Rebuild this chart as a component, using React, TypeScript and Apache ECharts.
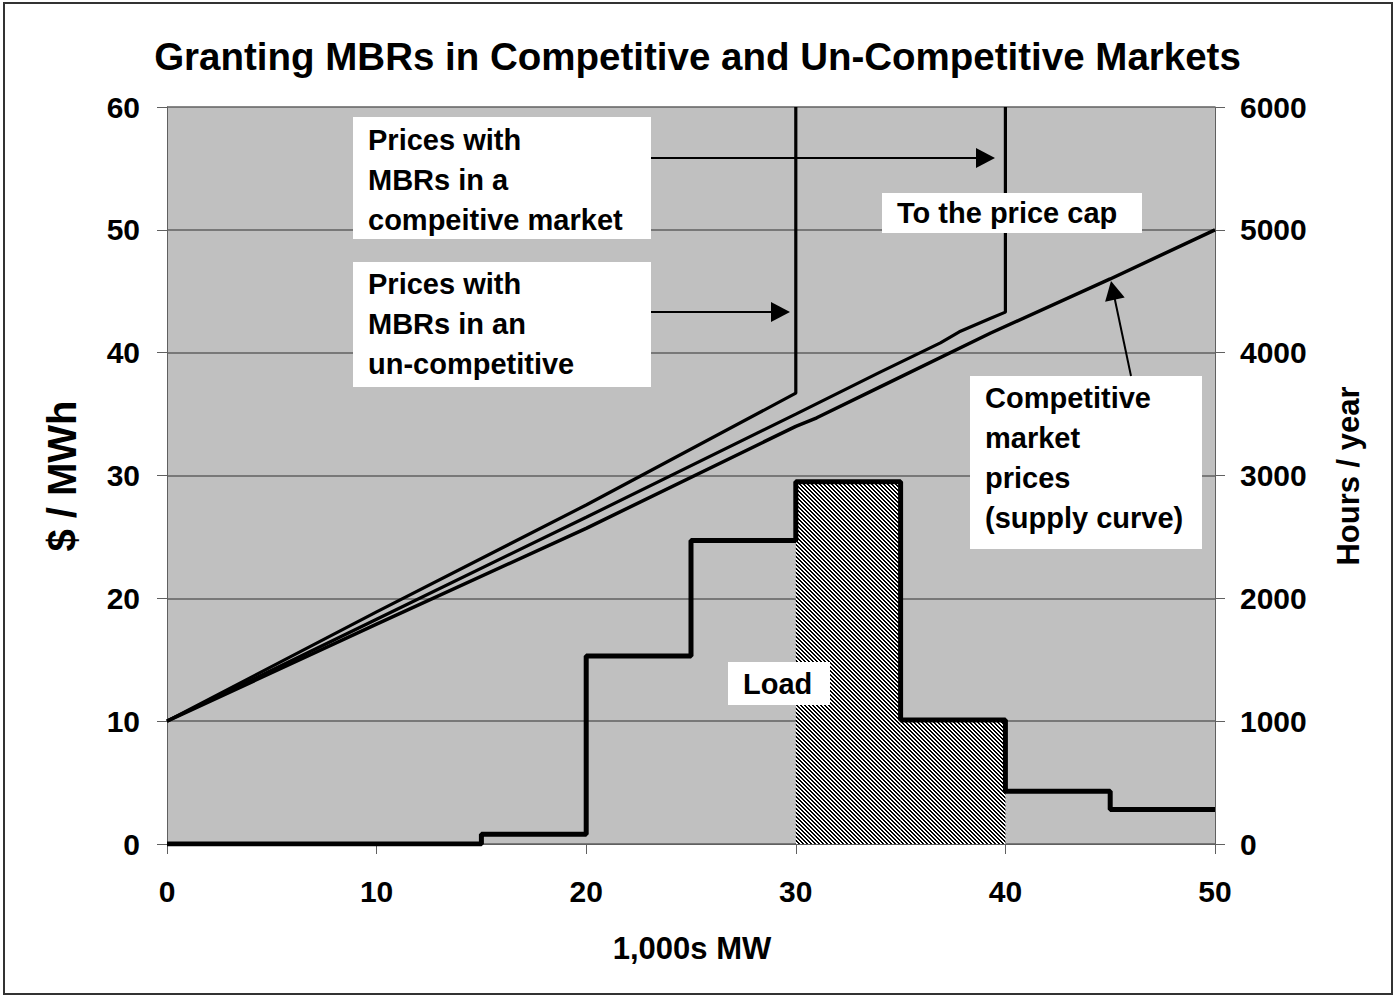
import React, { useEffect, useRef } from "react";
import * as echarts from "echarts";

// ---- data ----
const upperX = [0, 10, 20, 30, 30];
const upperY = [10, 18.9, 27.6, 36.7, 60];
const middleX = [0, 10, 20, 30, 34, 36.9, 37.8, 39.3, 40, 40];
const middleY = [10, 18.3, 26.6, 35.0, 38.4, 40.8, 41.7, 42.8, 43.3, 60];
const supplyX = [0, 10, 20, 30, 31, 34, 39.3, 45, 50];
const supplyY = [10, 17.9, 25.7, 34.0, 34.7, 37.2, 41.6, 46.0, 50];
const loadEdges = [0, 15, 20, 25, 30, 35, 40, 45, 50];
const loadHours = [0, 80, 1530, 2470, 2950, 1010, 430, 280];
const hatchFrom = 30;
const hatchTo = 40;

const titleText = "Granting MBRs in Competitive and Un-Competitive Markets";
const leftTitle = "$ / MWh";
const rightTitle = "Hours / year";
const bottomTitle = "1,000s MW";

const FONT = '"Liberation Sans", Arial, sans-serif';

function zip(xs: number[], ys: number[]) {
  return xs.map((x, i) => [x, ys[i]]);
}

function arrowHead(tx: number, ty: number, fx: number, fy: number, len: number, half: number) {
  const dx = tx - fx, dy = ty - fy;
  const L = Math.sqrt(dx * dx + dy * dy);
  const ux = dx / L, uy = dy / L;
  const bx = tx - ux * len, by = ty - uy * len;
  return [
    [tx, ty],
    [bx - uy * half, by + ux * half],
    [bx + uy * half, by - ux * half],
  ];
}

function arrow(fx: number, fy: number, tx: number, ty: number) {
  const pts = arrowHead(tx, ty, fx, fy, 19, 10);
  const dx = tx - fx, dy = ty - fy;
  const L = Math.sqrt(dx * dx + dy * dy);
  const ex = tx - (dx / L) * 15, ey = ty - (dy / L) * 15;
  return [
    { type: "line", z: 100, shape: { x1: fx, y1: fy, x2: ex, y2: ey }, style: { stroke: "#000", lineWidth: 2 } },
    { type: "polygon", z: 100, shape: { points: pts }, style: { fill: "#000" } },
  ];
}

function box(x: number, y: number, w: number, h: number, text: string, tx: number, ty: number) {
  return [
    { type: "rect", z: 99, shape: { x, y, width: w, height: h }, style: { fill: "#fff" } },
    {
      type: "text",
      z: 101,
      style: {
        text,
        x: tx,
        y: ty,
        font: `bold 29px ${FONT}`,
        fill: "#000",
        lineHeight: 40,
        textVerticalAlign: "top",
      },
    },
  ];
}

export default function App() {
  const ref = useRef<HTMLDivElement>(null);
  useEffect(() => {
    document.body.style.margin = "0";
    const chart = echarts.init(ref.current!, null, { renderer: "svg" });

    const cv = document.createElement("canvas");
    cv.width = 4;
    cv.height = 4;
    const ctx = cv.getContext("2d")!;
    ctx.fillStyle = "#fff";
    ctx.fillRect(0, 0, 4, 4);
    ctx.fillStyle = "#000";
    for (let i = 0; i < 4; i++) {
      ctx.fillRect(i, i, 1, 1);
      ctx.fillRect(i, (i + 1) % 4, 1, 1);
    }
    const pattern: any = { image: cv.toDataURL(), repeat: "repeat", imageWidth: 4, imageHeight: 4 };

    const loadPts: number[][] = [];
    for (let i = 0; i < loadHours.length; i++) {
      loadPts.push([loadEdges[i], loadHours[i]]);
      loadPts.push([loadEdges[i + 1], loadHours[i]]);
    }
    const hatchData: number[][] = [];
    for (let i = 0; i < loadHours.length; i++) {
      if (loadEdges[i] >= hatchFrom && loadEdges[i + 1] <= hatchTo) {
        hatchData.push([loadEdges[i], loadEdges[i + 1], loadHours[i]]);
      }
    }

    const axisLabel = { fontSize: 30, fontWeight: "bold", color: "#000", fontFamily: FONT, formatter: (v: number) => String(v) };
    const gray = "#606060";

    chart.setOption({
      animation: false,
      backgroundColor: "#fff",
      title: {
        text: titleText,
        left: "center",
        top: 32,
        textStyle: { fontSize: 38.5, fontWeight: "bold", color: "#000", fontFamily: FONT },
      },
      grid: {
        left: 167,
        right: 180,
        top: 107,
        bottom: 151,
        show: true,
        backgroundColor: "#c0c0c0",
        borderWidth: 0,
      },
      xAxis: {
        type: "value",
        min: 0,
        max: 50,
        interval: 10,
        axisLine: { show: true, lineStyle: { color: gray, width: 1 } },
        axisTick: { show: true, length: 10, lineStyle: { color: gray } },
        splitLine: { show: false },
        axisLabel: { ...axisLabel, margin: 32 },
      },
      yAxis: [
        {
          type: "value",
          min: 0,
          max: 60,
          interval: 10,
          axisLine: { show: true, lineStyle: { color: gray, width: 1 } },
          axisTick: { show: true, length: 10, lineStyle: { color: gray } },
          splitLine: { show: true, lineStyle: { color: gray, width: 1.5 } },
          axisLabel: { ...axisLabel, margin: 27 },
        },
        {
          type: "value",
          min: 0,
          max: 6000,
          interval: 1000,
          position: "right",
          axisLine: { show: true, lineStyle: { color: gray, width: 1 } },
          axisTick: { show: true, length: 10, lineStyle: { color: gray } },
          splitLine: { show: false },
          axisLabel: { ...axisLabel, margin: 25 },
        },
      ],
      series: [
        {
          type: "custom",
          yAxisIndex: 1,
          z: 1,
          encode: { x: [0, 1], y: 2 },
          data: hatchData,
          renderItem: (params: any, api: any) => {
            const p0 = api.coord([api.value(0), api.value(2)]);
            const p1 = api.coord([api.value(1), 0]);
            return {
              type: "rect",
              shape: { x: p0[0], y: p0[1], width: p1[0] - p0[0], height: p1[1] - p0[1] },
              style: { fill: pattern },
            };
          },
        },
        {
          type: "line",
          yAxisIndex: 1,
          data: loadPts,
          symbol: "none",
          lineStyle: { color: "#000", width: 5 },
          z: 3,
        },
        {
          type: "line",
          data: zip(upperX, upperY),
          symbol: "none",
          lineStyle: { color: "#000", width: 3.2 },
          z: 4,
        },
        {
          type: "line",
          data: zip(middleX, middleY),
          symbol: "none",
          lineStyle: { color: "#000", width: 3.2 },
          z: 4,
        },
        {
          type: "line",
          data: zip(supplyX, supplyY),
          symbol: "none",
          lineStyle: { color: "#000", width: 3.5 },
          z: 4,
        },
      ],
      graphic: [
        { type: "rect", z: 0, shape: { x: 4, y: 3, width: 1388, height: 991 }, style: { fill: "none", stroke: "#333", lineWidth: 2 } },
        ...box(353, 117, 298, 122, "Prices with\nMBRs in a\ncompeitive market", 368, 120),
        ...box(353, 262, 298, 125, "Prices with\nMBRs in an\nun-competitive", 368, 264),
        ...box(882, 193, 260, 40, "To the price cap", 897, 193),
        ...box(970, 376, 232, 173, "Competitive\nmarket\nprices\n(supply curve)", 985, 378),
        ...box(728, 662, 102, 43, "Load", 743, 664),
        ...arrow(651, 158, 995, 158),
        ...arrow(651, 312, 790, 312),
        ...arrow(1131, 376, 1111, 281),
        {
          type: "text",
          z: 101,
          x: 62,
          y: 476,
          rotation: Math.PI / 2,
          style: { text: leftTitle, font: `bold 40px ${FONT}`, fill: "#000", textAlign: "center", textVerticalAlign: "middle" },
        },
        {
          type: "text",
          z: 101,
          x: 1348,
          y: 476,
          rotation: Math.PI / 2,
          style: { text: rightTitle, font: `bold 31px ${FONT}`, fill: "#000", textAlign: "center", textVerticalAlign: "middle" },
        },
        {
          type: "text",
          z: 101,
          x: 692,
          y: 948,
          style: { text: bottomTitle, font: `bold 31px ${FONT}`, fill: "#000", textAlign: "center", textVerticalAlign: "middle" },
        },
      ],
    });
    return () => chart.dispose();
  }, []);
  return <div ref={ref} style={{ width: 1395, height: 995 }} />;
}
